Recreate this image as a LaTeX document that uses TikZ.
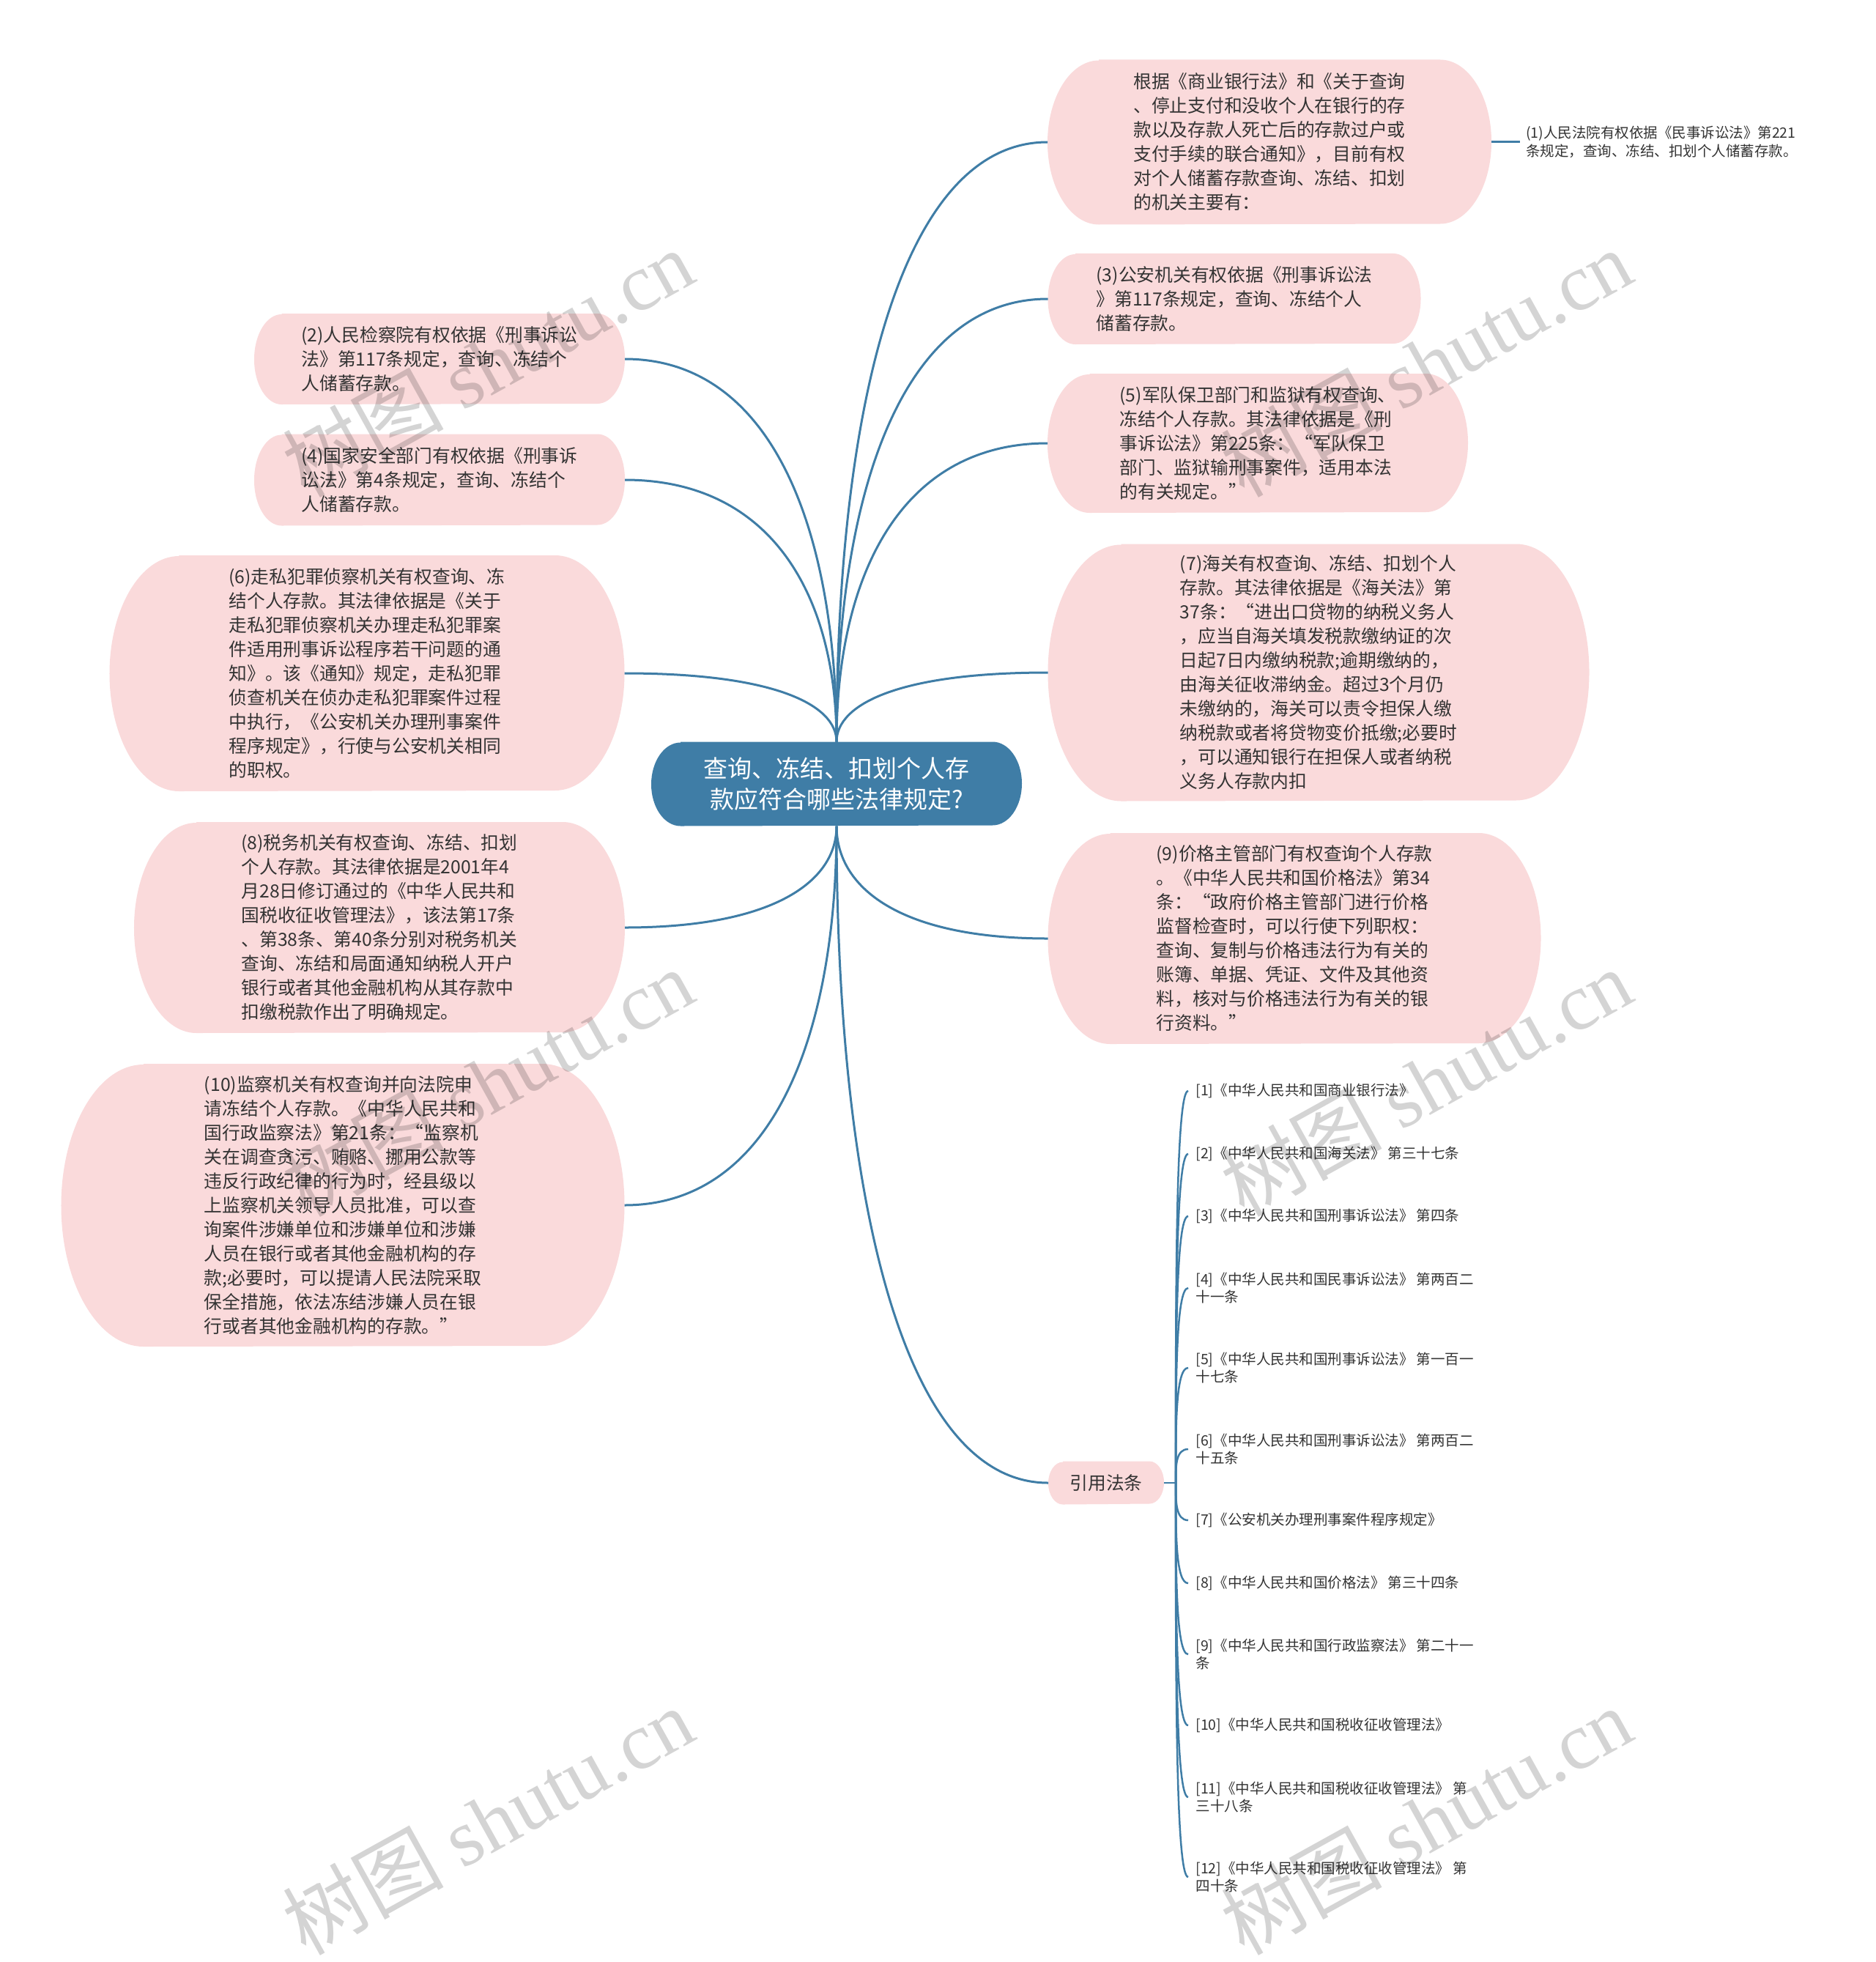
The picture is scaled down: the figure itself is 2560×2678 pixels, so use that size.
\documentclass[tikz,border=0pt]{standalone}
\usepackage{fontspec}
\setmainfont{Noto Sans CJK SC}
\newfontfamily\wmcjk{Noto Sans CJK SC}
\newfontfamily\wmlat{Liberation Serif}
\usetikzlibrary{calc,backgrounds}
\definecolor{pinkfill}{HTML}{FADADB}
\definecolor{mainblue}{HTML}{3F7DA6}
\definecolor{txt}{HTML}{333333}
\tikzset{
  conn/.style={draw=mainblue, line width=1.2pt},
  brk/.style={draw=mainblue, line width=1pt},
  boxtext/.style={align=left, text=txt, inner sep=0pt, font=\fontsize{9.9pt}{13.2pt}\selectfont},
  titletext/.style={align=center, text=white, inner sep=0pt, font=\fontsize{13.2pt}{17pt}\selectfont},
  reftext/.style={align=left, text=txt, anchor=west, inner xsep=4pt, inner ysep=1pt, font=\fontsize{7.8pt}{9.8pt}\selectfont},
  smalltext/.style={align=left, text=txt, anchor=west, inner xsep=3pt, inner ysep=1pt, font=\fontsize{7.8pt}{10.2pt}\selectfont},
  wmark/.style={text=black, text opacity=0.17, rotate=29, inner sep=0pt, font=\fontsize{44pt}{44pt}\selectfont},
}
% #1 node, #2 rx, #3 ry (half height), #4 colour
\newcommand\stadium[4]{%
  \fill[#4] ([xshift=#2]#1.north west) -- ([xshift=-#2]#1.north east)
    arc[start angle=90,end angle=-90,x radius=#2,y radius=#3]
    -- ([xshift=#2]#1.south west)
    arc[start angle=270,end angle=90,x radius=#2,y radius=#3] -- cycle;}
% curved branch from #1 to #2
\newcommand\branch[2]{%
  \draw[conn] (#1) .. controls ($(#1)!0.55!(#1 |- #2)$) and ($(#2)!0.7!(#1 |- #2)$) .. (#2);}
\newcommand\refbranch[2]{%
  \draw[brk] (#1) .. controls ($(#1)!0.5!(#1 |- #2)$) and (#1 |- #2) .. (#2);}
\begin{document}
\begin{tikzpicture}[x=0.4pt,y=-0.4pt]
\useasboundingbox (0,0) rectangle (2560,2678);

% central node
\node[titletext, minimum width=202pt, minimum height=45.6pt] (c) at (1142,1070)
  {查询、冻结、扣划个人存\\款应符合哪些法律规定?};

% right side
\node[boxtext, minimum width=242pt, minimum height=89.6pt] (a) at (1733,194)
  {根据《商业银行法》和《关于查询\\、停止支付和没收个人在银行的存\\款以及存款人死亡后的存款过户或\\支付手续的联合通知》，目前有权\\对个人储蓄存款查询、冻结、扣划\\的机关主要有：};
\node[smalltext] (n1) at (2075,194)
  {(1)人民法院有权依据《民事诉讼法》第221\\条规定，查询、冻结、扣划个人储蓄存款。};
\node[boxtext, minimum width=203.2pt, minimum height=49.2pt] (n3) at (1685,408)
  {(3)公安机关有权依据《刑事诉讼法\\》第117条规定，查询、冻结个人\\储蓄存款。};
\node[boxtext, minimum width=229.2pt, minimum height=75.6pt] (n5) at (1717,605)
  {(5)军队保卫部门和监狱有权查询、\\冻结个人存款。其法律依据是《刑\\事诉讼法》第225条：“军队保卫\\部门、监狱输刑事案件，适用本法\\的有关规定。”};
\node[boxtext, minimum width=295.2pt, minimum height=140pt] (n7) at (1800,918)
  {(7)海关有权查询、冻结、扣划个人\\存款。其法律依据是《海关法》第\\37条：“进出口贷物的纳税义务人\\，应当自海关填发税款缴纳证的次\\日起7日内缴纳税款;逾期缴纳的，\\由海关征收滞纳金。超过3个月仍\\未缴纳的，海关可以责令担保人缴\\纳税款或者将贷物变价抵缴;必要时\\，可以通知银行在担保人或者纳税\\义务人存款内扣};
\node[boxtext, minimum width=268.8pt, minimum height=114.8pt] (n9) at (1767,1281)
  {(9)价格主管部门有权查询个人存款\\。《中华人民共和国价格法》第34\\条：“政府价格主管部门进行价格\\监督检查时，可以行使下列职权：\\查询、复制与价格违法行为有关的\\账簿、单据、凭证、文件及其他资\\料，核对与价格违法行为有关的银\\行资料。”};
\node[boxtext, minimum width=62.8pt, minimum height=23.2pt] (refs) at (1510,2024) {引用法条};

% left side
\node[boxtext, minimum width=202pt, minimum height=49.2pt] (n2) at (600,490)
  {(2)人民检察院有权依据《刑事诉讼\\法》第117条规定，查询、冻结个\\人储蓄存款。};
\node[boxtext, minimum width=202pt, minimum height=49.6pt] (n4) at (600,655)
  {(4)国家安全部门有权依据《刑事诉\\讼法》第4条规定，查询、冻结个\\人储蓄存款。};
\node[boxtext, minimum width=280.8pt, minimum height=128.4pt] (n6) at (501,919)
  {(6)走私犯罪侦察机关有权查询、冻\\结个人存款。其法律依据是《关于\\走私犯罪侦察机关办理走私犯罪案\\件适用刑事诉讼程序若干问题的通\\知》。该《通知》规定，走私犯罪\\侦查机关在侦办走私犯罪案件过程\\中执行，《公安机关办理刑事案件\\程序规定》，行使与公安机关相同\\的职权。};
\node[boxtext, minimum width=267.6pt, minimum height=114.8pt] (n8) at (518,1266)
  {(8)税务机关有权查询、冻结、扣划\\个人存款。其法律依据是2001年4\\月28日修订通过的《中华人民共和\\国税收征收管理法》，该法第17条\\、第38条、第40条分别对税务机关\\查询、冻结和局面通知纳税人开户\\银行或者其他金融机构从其存款中\\扣缴税款作出了明确规定。};
\node[boxtext, minimum width=307.2pt, minimum height=154pt] (n10) at (468,1645)
  {(10)监察机关有权查询并向法院申\\请冻结个人存款。《中华人民共和\\国行政监察法》第21条：“监察机\\关在调查贪污、贿赂、挪用公款等\\违反行政纪律的行为时，经县级以\\上监察机关领导人员批准，可以查\\询案件涉嫌单位和涉嫌单位和涉嫌\\人员在银行或者其他金融机构的存\\款;必要时，可以提请人民法院采取\\保全措施，依法冻结涉嫌人员在银\\行或者其他金融机构的存款。”};

% reference items
\node[reftext] (r1) at (1622,1489) {[1]《中华人民共和国商业银行法》};
\node[reftext] (r2) at (1622,1575) {[2]《中华人民共和国海关法》 第三十七条};
\node[reftext] (r3) at (1622,1660) {[3]《中华人民共和国刑事诉讼法》 第四条};
\node[reftext] (r4) at (1622,1758) {[4]《中华人民共和国民事诉讼法》 第两百二\\十一条};
\node[reftext] (r5) at (1622,1867) {[5]《中华人民共和国刑事诉讼法》 第一百一\\十七条};
\node[reftext] (r6) at (1622,1978) {[6]《中华人民共和国刑事诉讼法》 第两百二\\十五条};
\node[reftext] (r7) at (1622,2075) {[7]《公安机关办理刑事案件程序规定》};
\node[reftext] (r8) at (1622,2161) {[8]《中华人民共和国价格法》 第三十四条};
\node[reftext] (r9) at (1622,2258) {[9]《中华人民共和国行政监察法》 第二十一\\条};
\node[reftext] (r10) at (1622,2355) {[10]《中华人民共和国税收征收管理法》};
\node[reftext] (r11) at (1622,2453) {[11]《中华人民共和国税收征收管理法》 第\\三十八条};
\node[reftext] (r12) at (1622,2562) {[12]《中华人民共和国税收征收管理法》 第\\四十条};

% white page and shapes behind the texts
\begin{scope}[on background layer]
  \fill[white] (0,0) rectangle (2560,2678);
  \stadium{c}{16pt}{22.8pt}{mainblue}
  \stadium{a}{28pt}{44.8pt}{pinkfill}
  \stadium{n3}{15pt}{24.6pt}{pinkfill}
  \stadium{n5}{23pt}{37.8pt}{pinkfill}
  \stadium{n7}{40pt}{70pt}{pinkfill}
  \stadium{n9}{34pt}{57.4pt}{pinkfill}
  \stadium{refs}{8pt}{11.6pt}{pinkfill}
  \stadium{n2}{15pt}{24.6pt}{pinkfill}
  \stadium{n4}{15pt}{24.8pt}{pinkfill}
  \stadium{n6}{38pt}{64.2pt}{pinkfill}
  \stadium{n8}{34pt}{57.4pt}{pinkfill}
  \stadium{n10}{45pt}{77pt}{pinkfill}
\end{scope}

% connectors
\coordinate (ct) at (c.north);
\coordinate (cb) at (c.south);
\branch{ct}{a.west}
\branch{ct}{n3.west}
\branch{ct}{n5.west}
\branch{ct}{n7.west}
\branch{cb}{n9.west}
\branch{cb}{refs.west}
\branch{ct}{n2.east}
\branch{ct}{n4.east}
\branch{ct}{n6.east}
\branch{cb}{n8.east}
\branch{cb}{n10.east}
\draw[conn] (a.east) -- (n1.west);

\coordinate (j) at (1605,2024);
\draw[brk] (refs.east) -- (j);
\refbranch{j}{r1.west}
\refbranch{j}{r2.west}
\refbranch{j}{r3.west}
\refbranch{j}{r4.west}
\refbranch{j}{r5.west}
\refbranch{j}{r6.west}
\refbranch{j}{r7.west}
\refbranch{j}{r8.west}
\refbranch{j}{r9.west}
\refbranch{j}{r10.west}
\refbranch{j}{r11.west}
\refbranch{j}{r12.west}

% watermarks
\node[wmark] (w1) at (666,495) {{\wmcjk 树图} {\wmlat shutu.cn}};
\node[wmark] (w2) at (1947,495) {{\wmcjk 树图} {\wmlat shutu.cn}};
\node[wmark] (w3) at (666,1477) {{\wmcjk 树图} {\wmlat shutu.cn}};
\node[wmark] (w4) at (1947,1477) {{\wmcjk 树图} {\wmlat shutu.cn}};
\node[wmark] (w5) at (666,2485) {{\wmcjk 树图} {\wmlat shutu.cn}};
\node[wmark] (w6) at (1947,2485) {{\wmcjk 树图} {\wmlat shutu.cn}};
\end{tikzpicture}
\end{document}
